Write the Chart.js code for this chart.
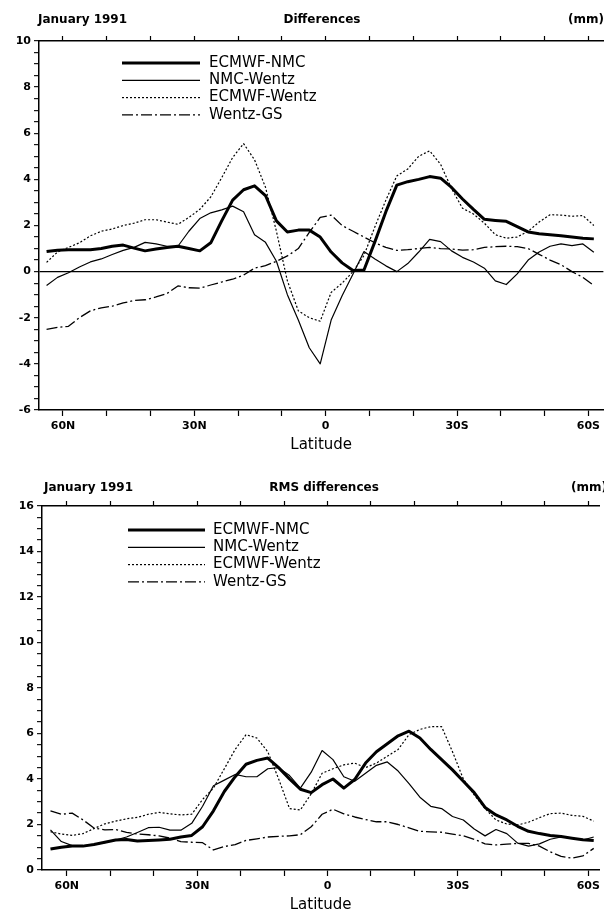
<!DOCTYPE html>
<html><head><meta charset="utf-8">
<script src="https://cdn.jsdelivr.net/npm/chart.js@4.4.1/dist/chart.umd.min.js"></script>
<style>
html,body{margin:0;padding:0;background:#fff;}
#wrap{position:relative;width:604px;height:914px;overflow:hidden;background:#fff;}
canvas{position:absolute;left:0;}
</style></head><body>
<div id="wrap">
<canvas id="c1" width="604" height="457" style="top:0;width:604px;height:457px"></canvas>
<canvas id="c2" width="604" height="457" style="top:457px;width:604px;height:457px"></canvas>
</div>
<script>
// ---------------- DATA ----------------
// latitude, degrees north (negative = south)
const lat = [63.75,61.25,58.75,56.25,53.75,51.25,48.75,46.25,43.75,41.25,38.75,36.25,33.75,31.25,28.75,26.25,23.75,21.25,18.75,16.25,13.75,11.25,8.75,6.25,3.75,1.25,-1.25,-3.75,-6.25,-8.75,-11.25,-13.75,-16.25,-18.75,-21.25,-23.75,-26.25,-28.75,-31.25,-33.75,-36.25,-38.75,-41.25,-43.75,-46.25,-48.75,-51.25,-53.75,-56.25,-58.75,-61.25];

const seriesNames = ['ECMWF-NMC','NMC-Wentz','ECMWF-Wentz','Wentz-GS'];

// Differences (mm)
const diffEcmwfNmc = [0.87,0.93,0.95,0.95,0.95,1.0,1.1,1.15,1.02,0.9,0.98,1.05,1.1,1.0,0.9,1.25,2.2,3.1,3.55,3.72,3.3,2.2,1.72,1.8,1.8,1.5,0.85,0.38,0.05,0.07,1.3,2.6,3.75,3.9,4.0,4.12,4.05,3.65,3.15,2.7,2.27,2.22,2.18,1.95,1.72,1.64,1.6,1.56,1.5,1.45,1.42];
const diffNmcWentz = [-0.6,-0.25,-0.05,0.2,0.42,0.55,0.74,0.92,1.05,1.27,1.2,1.1,1.1,1.75,2.3,2.55,2.68,2.84,2.6,1.6,1.27,0.45,-1.0,-2.1,-3.3,-4.0,-2.1,-1.05,-0.1,0.87,0.55,0.25,0.0,0.35,0.85,1.4,1.3,0.9,0.62,0.42,0.15,-0.4,-0.56,-0.1,0.5,0.85,1.1,1.2,1.13,1.2,0.84];
const diffEcmwfWentz = [0.4,0.85,1.05,1.25,1.55,1.75,1.85,2.0,2.1,2.25,2.25,2.15,2.05,2.35,2.7,3.24,4.07,4.95,5.55,4.85,3.66,1.75,-0.4,-1.7,-2.0,-2.15,-0.9,-0.5,0.0,0.7,1.95,3.1,4.15,4.45,5.0,5.24,4.65,3.6,2.75,2.5,2.1,1.6,1.45,1.5,1.75,2.15,2.47,2.45,2.4,2.43,2.0];
const diffWentzGs = [-2.5,-2.42,-2.37,-2.0,-1.7,-1.57,-1.5,-1.36,-1.25,-1.22,-1.1,-0.95,-0.62,-0.7,-0.72,-0.58,-0.45,-0.33,-0.15,0.15,0.26,0.45,0.68,1.0,1.7,2.35,2.45,2.0,1.75,1.5,1.25,1.05,0.92,0.95,1.0,1.05,1.0,0.98,0.93,0.95,1.05,1.08,1.1,1.08,1.0,0.75,0.5,0.3,0.0,-0.25,-0.6];

// RMS differences (mm)
const rmsEcmwfNmc = [0.92,1.0,1.05,1.05,1.12,1.22,1.32,1.34,1.27,1.3,1.32,1.35,1.45,1.52,1.9,2.6,3.45,4.1,4.65,4.82,4.92,4.5,4.0,3.55,3.4,3.75,4.0,3.6,3.98,4.7,5.2,5.55,5.9,6.1,5.8,5.3,4.85,4.4,3.9,3.4,2.75,2.42,2.2,1.92,1.7,1.6,1.52,1.47,1.4,1.33,1.3];
const rmsNmcWentz = [1.76,1.25,1.07,1.07,1.12,1.2,1.32,1.45,1.65,1.86,1.88,1.75,1.75,2.05,2.8,3.7,3.95,4.2,4.1,4.1,4.45,4.5,4.15,3.6,4.3,5.25,4.85,4.1,3.9,4.25,4.6,4.75,4.35,3.8,3.2,2.8,2.7,2.35,2.2,1.8,1.5,1.78,1.6,1.18,1.05,1.15,1.35,1.45,1.4,1.32,1.45];
const rmsEcmwfWentz = [1.68,1.58,1.52,1.6,1.82,2.03,2.15,2.25,2.31,2.45,2.53,2.47,2.42,2.45,3.1,3.6,4.45,5.3,5.95,5.8,5.2,4.0,2.7,2.64,3.35,4.25,4.45,4.62,4.7,4.5,4.7,5.0,5.3,5.95,6.18,6.3,6.3,5.2,4.0,3.3,2.7,2.2,2.02,1.98,2.1,2.3,2.48,2.5,2.4,2.36,2.15];
const rmsWentzGs = [2.6,2.45,2.5,2.2,1.85,1.76,1.78,1.65,1.58,1.55,1.5,1.4,1.25,1.22,1.2,0.88,1.03,1.12,1.3,1.37,1.45,1.48,1.5,1.55,1.9,2.45,2.67,2.47,2.33,2.22,2.12,2.12,2.0,1.85,1.7,1.68,1.66,1.58,1.5,1.35,1.15,1.1,1.14,1.17,1.17,1.05,0.8,0.6,0.52,0.62,0.95];

// axis ticks
const xTickVals = [60,50,40,30,20,10,0,-10,-20,-30,-40,-50,-60];
const xLabelVals = [60,30,0,-30,-60];
const xLabelTexts = ['60N','30N','0','30S','60S'];

// ---------------- RENDERING ----------------
const FONT = '"DejaVu Sans", sans-serif';
Chart.defaults.font.family = FONT;
Chart.defaults.color = '#000';

const lineStyles = [
  {w: 3.0, dash: []},
  {w: 1.2, dash: []},
  {w: 1.2, dash: [2, 2]},
  {w: 1.3, dash: [11, 3, 2, 3]}
];

const decor = {
  id: 'decor',
  afterDraw(chart, args, o) {
    const ctx = chart.ctx;
    ctx.save();
    ctx.fillStyle = '#000';
    ctx.textBaseline = 'middle';
    ctx.font = 'bold 12px ' + FONT;
    ctx.textAlign = 'left';   ctx.fillText(o.left, o.leftX, o.titleY);
    ctx.textAlign = 'center'; ctx.fillText(o.center, o.centerX, o.titleY);
    ctx.textAlign = 'right';  ctx.fillText(o.right, o.rightX, o.titleY);
    chart.data.datasets.forEach((ds, i) => {
      const y = o.legY + i * o.legStep;
      ctx.beginPath();
      ctx.setLineDash(ds.borderDash || []);
      ctx.lineWidth = ds.borderWidth;
      ctx.strokeStyle = ds.borderColor;
      ctx.moveTo(o.legX, y);
      ctx.lineTo(o.legX + o.legLen, y);
      ctx.stroke();
      ctx.setLineDash([]);
      ctx.font = '15px ' + FONT;
      ctx.textAlign = 'left';
      ctx.fillText(ds.label, o.legTextX, y);
    });
    ctx.restore();
  }
};

function xLabel(v) {
  const k = xLabelVals.indexOf(v);
  return k >= 0 ? xLabelTexts[k] : '';
}

function makeChart(id, o) {
  const datasets = o.series.map((s, i) => ({
    label: seriesNames[i],
    data: lat.map((x, k) => ({x: x, y: s[k]})),
    borderColor: '#000',
    borderWidth: lineStyles[i].w,
    borderDash: lineStyles[i].dash,
    borderJoinStyle: 'round',
    pointRadius: 0,
    tension: 0,
    fill: false
  }));
  const setX = a => { a.ticks = xTickVals.map(v => ({value: v})); };
  return new Chart(document.getElementById(id), {
    type: 'line',
    data: {datasets: datasets},
    plugins: [decor],
    options: {
      responsive: false,
      animation: false,
      devicePixelRatio: 1,
      layout: {padding: 0},
      plugins: {
        legend: {display: false},
        tooltip: {enabled: false},
        title: {display: false},
        decor: o.decor
      },
      scales: {
        x: {
          type: 'linear', position: 'bottom', reverse: true,
          min: o.xMin, max: o.xMax,
          afterBuildTicks: setX,
          afterFit: a => { a.height = o.bottomH; },
          ticks: {autoSkip: false, maxRotation: 0, padding: 4, color: '#000',
                  font: {family: FONT, size: 11, weight: 'bold'}, callback: xLabel},
          grid: {drawOnChartArea: false, drawTicks: true, tickLength: 6,
                 tickColor: '#000', tickWidth: 1.2},
          border: {display: true, color: '#000', width: 1.5},
          title: {display: true, text: 'Latitude', color: '#000',
                  font: {family: FONT, size: 15}, padding: {top: 0, bottom: o.latPad}}
        },
        xTop: {
          axis: 'x', type: 'linear', position: 'top', reverse: true,
          min: o.xMin, max: o.xMax,
          afterBuildTicks: setX,
          afterFit: a => { a.height = o.topH; },
          ticks: {display: false},
          grid: {drawOnChartArea: false, drawTicks: true, tickLength: 5,
                 tickColor: '#000', tickWidth: 1.2},
          border: {display: true, color: '#000', width: 1.5}
        },
        y: {
          type: 'linear', position: 'left', min: o.yMin, max: o.yMax,
          afterFit: a => { a.width = o.leftW; },
          ticks: {stepSize: 0.5, autoSkip: false, padding: 3, color: '#000',
                  font: {family: FONT, size: 11, weight: 'bold'},
                  callback: v => (Math.abs(v % 2) < 1e-9 ? String(v) : '')},
          grid: {drawOnChartArea: o.zeroLine, drawTicks: true, tickLength: 5,
                 tickColor: '#000', tickWidth: 1.1,
                 color: c => (c.tick && c.tick.value === 0) ? '#000' : 'rgba(0,0,0,0)',
                 lineWidth: 1.3},
          border: {display: true, color: '#000', width: 1.5}
        }
      }
    }
  });
}

makeChart('c1', {
  series: [diffEcmwfNmc, diffNmcWentz, diffEcmwfWentz, diffWentzGs],
  xMin: -63.43, xMax: 65.48, yMin: -6, yMax: 10,
  leftW: 39, topH: 41, bottomH: 47, latPad: 3, zeroLine: true,
  decor: {left: 'January 1991', center: 'Differences', right: '(mm)',
          leftX: 38, centerX: 322, rightX: 604, titleY: 20,
          legX: 122, legLen: 78, legTextX: 209, legY: 63, legStep: 17.3}
});

makeChart('c2', {
  series: [rmsEcmwfNmc, rmsNmcWentz, rmsEcmwfWentz, rmsWentzGs],
  xMin: -62.52, xMax: 65.70, yMin: 0, yMax: 16,
  leftW: 42, topH: 49, bottomH: 44, latPad: 0, zeroLine: false,
  decor: {left: 'January 1991', center: 'RMS differences', right: '(mm)',
          leftX: 44, centerX: 324, rightX: 607, titleY: 31,
          legX: 128, legLen: 77, legTextX: 213, legY: 73, legStep: 17.3}
});
</script>
</body></html>
